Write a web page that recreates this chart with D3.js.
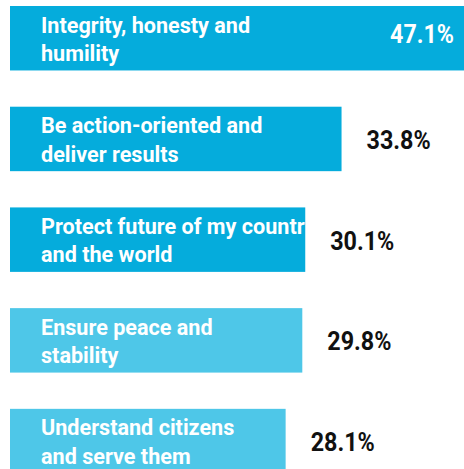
<!DOCTYPE html>
<html>
<head>
<meta charset="utf-8">
<script src="https://cdn.jsdelivr.net/npm/d3@7"></script>
<style>
  body { margin: 0; background: #fff; }
  svg { display: block; }
  text { font-family: Roboto, sans-serif; font-weight: bold; }
</style>
</head>
<body>
<div id="chart"></div>
<script>
// Data
const labels = [
    ["Integrity, honesty and", "humility"],
    ["Be action-oriented and", "deliver results"],
    ["Protect future of my country", "and the world"],
    ["Ensure peace and", "stability"],
    ["Understand citizens", "and serve them"],
];
const values = [47.1, 33.8, 30.1, 29.8, 28.1];
const barColors = ["#05acdc", "#05acdc", "#05acdc", "#4ec7e8", "#4ec7e8"];

const width = 464;
const height = 469;
const labelSqueeze = 0.96;

const svg = d3.select("#chart")
    .append("svg")
    .attr("width", width)
    .attr("height", height);

const x = d3.scaleLinear()
    .domain([0, 47.1])
    .range([10, 472]);

const y = d3.scaleBand()
    .domain(d3.range(values.length))
    .range([6, 473.3])
    .paddingInner(0.36)
    .paddingOuter(0);

const data = values.map((v, i) => ({ i, value: v, lines: labels[i], color: barColors[i] }));

// clip labels to their bars
const defs = svg.append("defs");
defs.selectAll("clipPath")
    .data(data)
    .join("clipPath")
    .attr("id", (d) => `clip-${d.i}`)
    .append("rect")
    .attr("x", x(0))
    .attr("y", (d) => y(d.i))
    .attr("width", (d) => x(d.value) - x(0))
    .attr("height", y.bandwidth());

const rows = svg.selectAll(".row")
    .data(data)
    .join("g")
    .attr("class", "row");

rows.append("rect")
    .attr("x", x(0))
    .attr("y", (d) => y(d.i))
    .attr("width", (d) => x(d.value) - x(0))
    .attr("height", y.bandwidth())
    .attr("fill", (d) => d.color);

// category text inside bars
rows.append("g")
    .attr("clip-path", (d) => `url(#clip-${d.i})`)
    .append("text")
    .attr("transform", `scale(${labelSqueeze},1)`)
    .attr("fill", "#fff")
    .style("font-size", "22.5px")
    .selectAll("tspan")
    .data((d) => d.lines.map((t, k) => ({ t, k, d })))
    .join("tspan")
    .attr("x", 41 / labelSqueeze)
    .attr("y", (l) => y(l.d.i) + y.bandwidth() / 2 + (l.k === 0 ? -5.6 : 22.7))
    .text((l) => l.t);

// value labels: first one sits inside the bar, the rest to the right
rows.append("text")
    .each(function (d) {
        const inside = d.i === 0;
        const k = inside ? 0.93 : 0.88;
        d3.select(this)
            .attr("transform", `scale(${k},1)`)
            .attr("x", (inside ? 454 : x(d.value) + 25) / k)
            .attr("y", y(d.i) + y.bandwidth() / 2 + (inside ? 4.5 : 10))
            .attr("text-anchor", inside ? "end" : "start")
            .attr("fill", inside ? "#fff" : "#111")
            .style("font-size", inside ? "25px" : "26.5px");
    })
    .text((d) => d.value.toFixed(1) + "%");
</script>
</body>
</html>
